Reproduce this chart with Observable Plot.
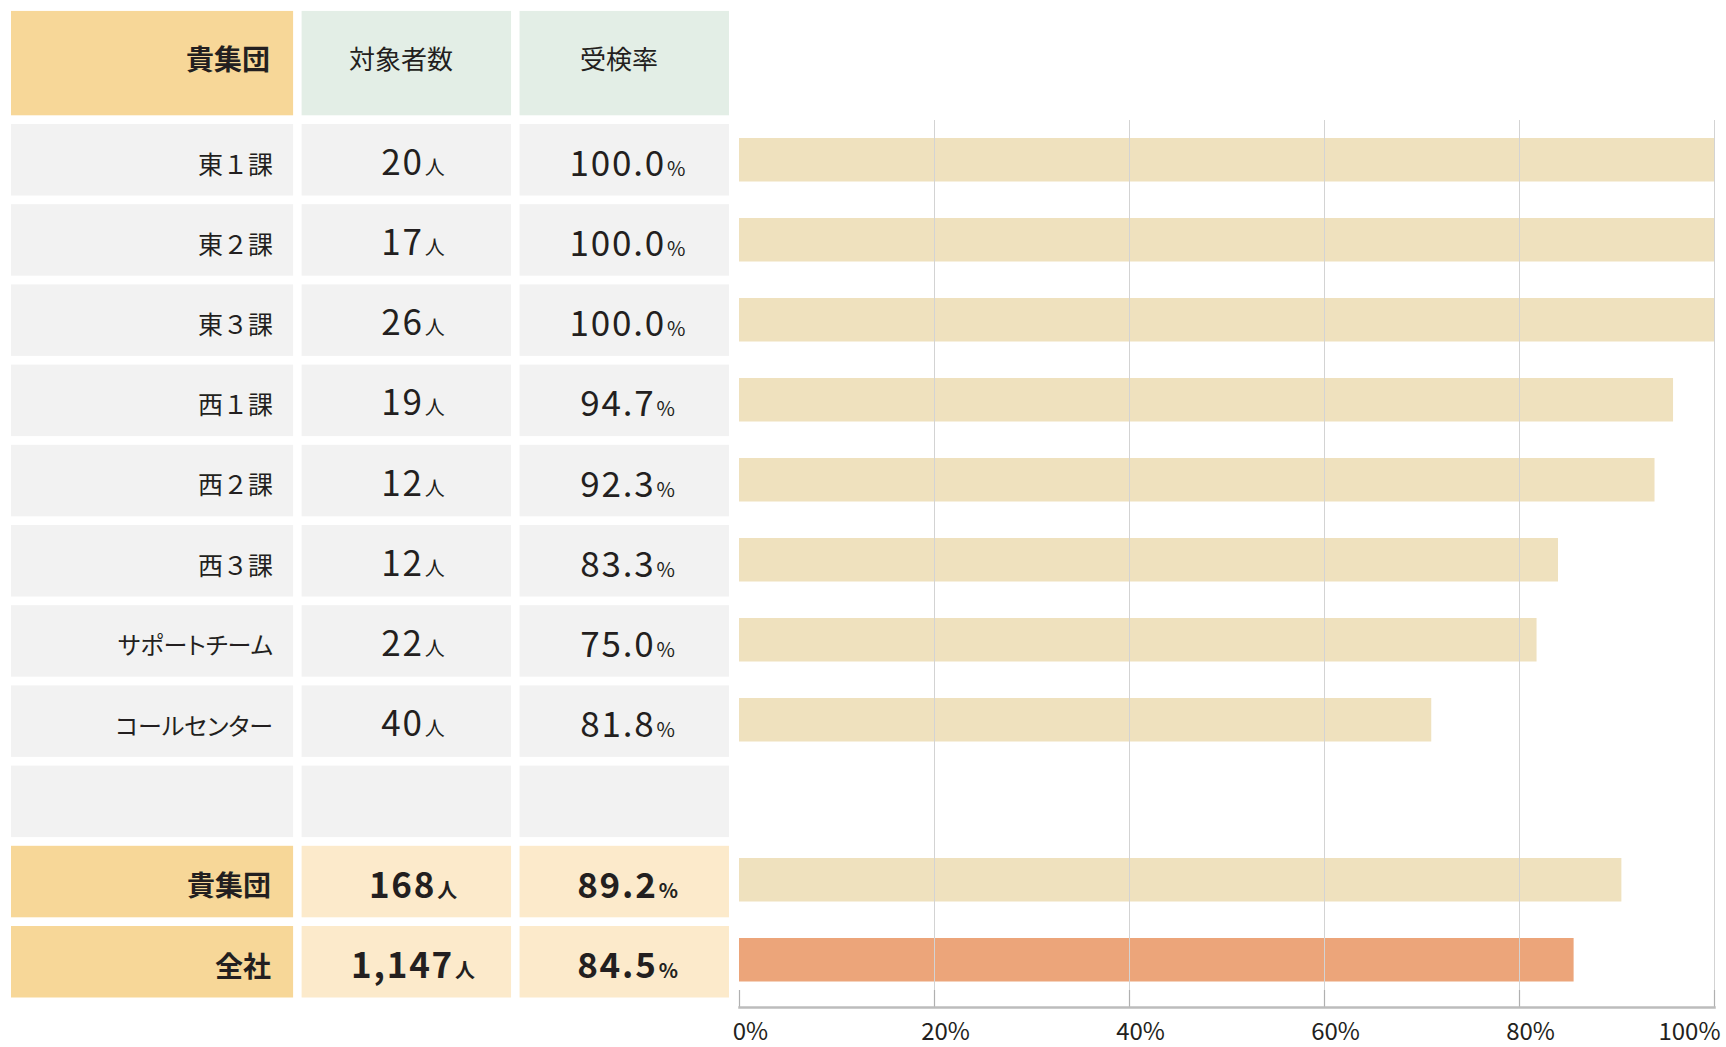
<!DOCTYPE html>
<html>
<head>
<meta charset="utf-8">
<script src="https://cdn.jsdelivr.net/npm/d3@7"></script>
<script src="https://cdn.jsdelivr.net/npm/@observablehq/plot@0.6"></script>
<style>
  body { margin: 0; background: #fff; }
  #chart { display: flex; width: 1726px; height: 1047px; position: relative; overflow: hidden; background: #fff; }
  #chart svg { display: block; flex: none; }
</style>
</head>
<body>
<div id="chart"></div>
<script>
// ---------- data ----------
const headers = ["貴集団", "対象者数", "受検率"];
const groups = ["東１課", "東２課", "東３課", "西１課", "西２課", "西３課", "サポートチーム", "コールセンター"];
const counts = [20, 17, 26, 19, 12, 12, 22, 40];
const rates = [100.0, 100.0, 100.0, 94.7, 92.3, 83.3, 75.0, 81.8];
const barValues = [100, 100, 100, 95.8, 93.9, 84.0, 81.8, 71.0];
const totalLabels = ["貴集団", "全社"];
const totalCounts = [168, 1147];
const totalRates = [89.2, 84.5];
const totalBarValues = [90.5, 85.6];
const xTicks = [0, 20, 40, 60, 80, 100];
const countUnit = "人";
const rateUnit = "%";

// ---------- style / layout ----------
const FONT = "'Noto Sans CJK JP', 'Noto Sans', sans-serif";
const TEXT = "#231f20";
const C = {
  headYellow: "#f7d798",
  headMint: "#e3eee6",
  body: "#f2f2f2",
  totalLight: "#fceacb",
  bar: "#efe1be",
  barCompany: "#eca57a",
  grid: "#d3d3d3",
  axis: "#bcbcbc"
};
const cols = [{start: 0, span: 4}, {start: 4, span: 3}, {start: 7, span: 3}];
const headerSpan = 1.41;

// ---------- rows ----------
const rows = [];
groups.forEach((g, i) => rows.push({idx: i, label: g, count: counts[i], rate: rates[i], bar: barValues[i], kind: "unit"}));
rows.push({idx: groups.length, label: "", kind: "blank"});
totalLabels.forEach((g, i) => rows.push({idx: groups.length + 1 + i, label: g, count: totalCounts[i], rate: totalRates[i], bar: totalBarValues[i], kind: i === totalLabels.length - 1 ? "company" : "total"}));
const nRows = rows.length;

const fmtCount = d => d3.format(",")(d) + countUnit;
const fmtRate = d => d.toFixed(1) + rateUnit;

// table cells
const cells = [];
headers.forEach((h, c) => cells.push({col: c, y1: -headerSpan, y2: 0, fill: c === 0 ? C.headYellow : C.headMint}));
rows.forEach(r => cols.forEach((_, c) => {
  const tot = r.kind === "total" || r.kind === "company";
  cells.push({col: c, y1: r.idx, y2: r.idx + 1, fill: tot ? (c === 0 ? C.headYellow : C.totalLight) : C.body});
}));

const colRight = c => cols[c].start + cols[c].span;
const colMid = c => cols[c].start + cols[c].span / 2;

const unitRows = rows.filter(r => r.kind === "unit");
const totRows = rows.filter(r => r.kind === "total" || r.kind === "company");

const table = Plot.plot({
  width: 735, height: 1047,
  margin: 0,
  style: `font-family: ${FONT}; background: transparent; overflow: visible; color: ${TEXT};`,
  x: {type: "linear", domain: [0, 10], range: [11, 737.5], axis: null},
  y: {type: "linear", domain: [0, nRows], range: [124, 124 + 80.2 * nRows], axis: null},
  color: {type: "identity"},
  marks: [
    Plot.rect(cells, {x1: d => cols[d.col].start, x2: d => colRight(d.col), y1: "y1", y2: "y2", fill: "fill", insetRight: 8.5, insetBottom: 8.7}),
    // header
    Plot.text([headers[0]], {x: colRight(0), y: -headerSpan / 2, text: d => d, textAnchor: "end", dx: -32, dy: -7, fontSize: 28, fontWeight: "bold", fill: TEXT}),
    Plot.text(headers.slice(1), {x: (d, i) => colMid(i + 1), y: -headerSpan / 2, text: d => d, dx: -10, dy: -7, fontSize: 26, fill: TEXT}),
    // unit rows
    Plot.text(unitRows, {x: colRight(0), y: d => d.idx + 0.5, text: "label", textAnchor: "end", dx: -29, dy: 1, fontSize: 25, fill: TEXT}),
    Plot.text(unitRows, {x: colMid(1), y: d => d.idx + 0.5, text: d => fmtCount(d.count), dx: 2, dy: -1, fontSize: 35, fill: TEXT}),
    Plot.text(unitRows, {x: colMid(2), y: d => d.idx + 0.5, text: d => fmtRate(d.rate), dx: -1.5, dy: 0, fontSize: 35, fill: TEXT}),
    // totals
    Plot.text(totRows, {x: colRight(0), y: d => d.idx + 0.5, text: "label", textAnchor: "end", dx: -31, dy: 1, fontSize: 28, fontWeight: "bold", fill: TEXT}),
    Plot.text(totRows, {x: colMid(1), y: d => d.idx + 0.5, text: d => fmtCount(d.count), dx: 2, dy: 0, fontSize: 35, fontWeight: "bold", fill: TEXT}),
    Plot.text(totRows, {x: colMid(2), y: d => d.idx + 0.5, text: d => fmtRate(d.rate), dx: -1.5, dy: 0, fontSize: 35, fontWeight: "bold", fill: TEXT})
  ]
});

// small unit glyphs after the numbers; proportional kana for katakana labels
const unitRe = new RegExp("^[0-9.,]+[" + countUnit + rateUnit + "]$");
const kanaRe = /[\u30A0-\u30FF]/;
d3.select(table).selectAll("text").each(function() {
  const s = this.textContent;
  if (unitRe.test(s)) {
    const num = s.slice(0, -1), unit = s.slice(-1);
    const t = d3.select(this);
    t.text(null);
    t.append("tspan").attr("letter-spacing", 1.8).text(num);
    t.append("tspan").attr("font-size", 20).attr("dx", 1).text(unit);
  } else if (kanaRe.test(s)) {
    d3.select(this).style("font-feature-settings", "'palt'").attr("font-size", 24);
  }
});

const bars = Plot.plot({
  width: 991, height: 1047,
  marginTop: 120, marginBottom: 40, marginLeft: 4, marginRight: 12,
  style: `font-family: ${FONT}; background: transparent; overflow: visible; color: ${TEXT};`,
  x: {domain: [0, 100], axis: null, label: null},
  y: {type: "band", domain: rows.map(r => r.idx), range: [119, 119 + 80.2 * nRows], padding: 0, axis: null},
  color: {type: "identity"},
  marks: [
    Plot.barX(rows.filter(r => r.kind !== "blank"), {x: "bar", y: "idx", fill: d => d.kind === "company" ? C.barCompany : C.bar, insetTop: 18, insetBottom: 18.5}),
    Plot.ruleX(xTicks.slice(1), {x: d => d, stroke: C.grid, strokeWidth: 1}),
    Plot.axisX({ticks: xTicks, tickSize: -17, tickFormat: () => "", label: null, stroke: "#b0b0b0", strokeWidth: 1.2}),
    Plot.frame({anchor: "bottom", stroke: C.axis, strokeWidth: 2.5}),
    Plot.text(xTicks.slice(0, -1), {x: d => d, text: d => d + "%", frameAnchor: "bottom", dy: 32, dx: 11, fontSize: 24, fill: TEXT}),
    Plot.text(xTicks.slice(-1), {x: d => d, text: d => d + "%", frameAnchor: "bottom", dy: 32, dx: 6, textAnchor: "end", fontSize: 24, fill: TEXT})
  ]
});

const chart = document.getElementById("chart");
chart.appendChild(table);
chart.appendChild(bars);
</script>
</body>
</html>
